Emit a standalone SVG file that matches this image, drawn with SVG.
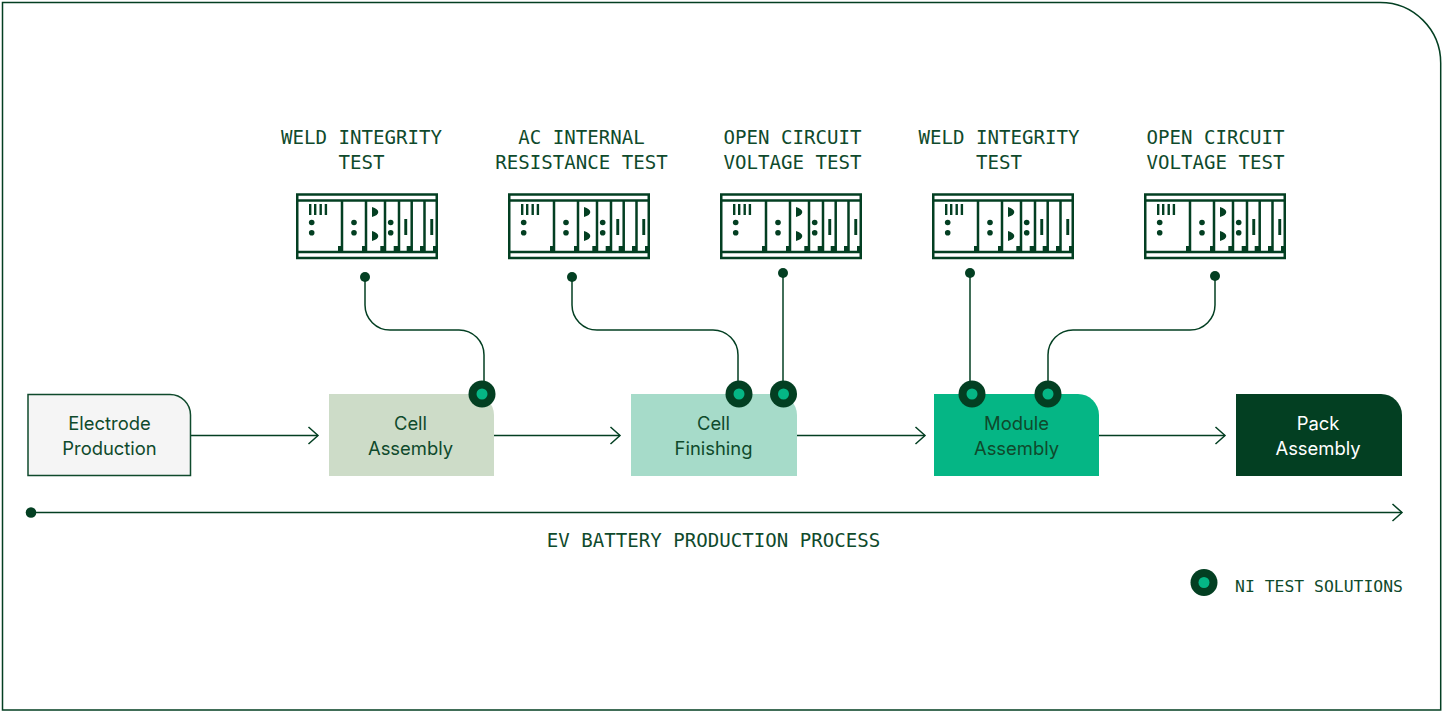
<svg xmlns="http://www.w3.org/2000/svg" width="1442" height="711" viewBox="0 0 1442 711">
<style>
.line{fill:none;stroke:#033f22;stroke-width:1.5}
.mono{font-family:"DejaVu Sans Mono",monospace;font-size:19.100px;fill:#0f4a2c;text-anchor:middle}
.sans{font-family:Inter,"Liberation Sans",sans-serif;font-size:18.400px;fill:#0f4a2c;text-anchor:middle}
.rk{fill:none;stroke:#033f22;stroke-width:2.500}
.d{fill:#033f22}
</style>
<defs>
<marker id="arr" markerUnits="userSpaceOnUse" markerWidth="14" markerHeight="20" refX="11" refY="10" orient="auto"><path d="M1.500 1.500L11 10L1.500 18.500" fill="none" stroke="#033f22" stroke-width="1.500"/></marker>
<g id="rack">
<rect class="rk" x="297.250" y="194.500" width="139.500" height="63.500"/>
<path class="rk" d="M297 200.500H437M297 252H437M342 200V252M366 200V252M385 200V252M399 200V252M411.700 200V252M424.500 200V252"/>
<path class="d" d="M338 246h5v6h-5zM362 246h5v6h-5zM380.300 246h5v6h-5zM393.700 246h5v6h-5zM406.700 246h5v6h-5zM420 246h5v6h-5zM433 246h5v6h-5z"/>
<path class="d" d="M309 204h2.400v11h-2.400zM314 204h2.400v11h-2.400zM319.500 204h2.400v11h-2.400zM324.700 204h2.400v11h-2.400z"/>
<circle class="d" cx="311.700" cy="222.500" r="2.800"/><circle class="d" cx="311.700" cy="232.700" r="2.800"/>
<circle class="d" cx="354" cy="222.500" r="2.800"/><circle class="d" cx="354" cy="232.700" r="2.800"/>
<circle class="d" cx="390.700" cy="222.500" r="2.800"/><circle class="d" cx="390.700" cy="232.700" r="2.800"/>
<path class="d" d="M372 207c4 1 6.300 3 6.300 5s-2.300 4-6.300 5zM372 231c4 1 6.300 3 6.300 5s-2.300 4-6.300 5z"/>
<path class="d" d="M404.300 219h2.900v16h-2.900zM430.300 219h2.900v16h-2.900z"/>
</g>
<g id="pin"><circle r="13.500" class="d"/><circle r="5.500" fill="#05b685"/></g>
</defs>
<path id="frame" d="M2.500 2.500H1380A60.500 60.500 0 0 1 1440.700 63V710H2.500Z" fill="#fff" stroke="#033f22" stroke-width="1.500"/>
<g id="connectors">
<path class="line" marker-end="url(#arr)" d="M191 435.500H318"/>
<path class="line" marker-end="url(#arr)" d="M494 435.500H620"/>
<path class="line" marker-end="url(#arr)" d="M797 435.500H925"/>
<path class="line" marker-end="url(#arr)" d="M1099 435.500H1225"/>
<path class="line" marker-end="url(#arr)" d="M31 512.500H1402"/>
<path class="line" d="M365 277V305A25 25 0 0 0 390 330H459A25 25 0 0 1 484 355V394"/>
<path class="line" d="M572 277V305A25 25 0 0 0 597 330H713A25 25 0 0 1 738 355V394"/>
<path class="line" d="M783 273V394"/>
<path class="line" d="M970 273V394"/>
<path class="line" d="M1215 276V305A25 25 0 0 1 1190 330H1073A25 25 0 0 0 1048 355V394"/>
<circle class="d" cx="31" cy="512.500" r="5.300"/>
<circle class="d" cx="365" cy="277" r="5"/>
<circle class="d" cx="572" cy="277" r="5"/>
<circle class="d" cx="783" cy="273" r="5"/>
<circle class="d" cx="970" cy="273" r="5"/>
<circle class="d" cx="1215" cy="276" r="5"/>
</g>
<g id="electrode"><path d="M28 394.500H170A20.500 20.500 0 0 1 190.500 415V475.500H28Z" fill="#f5f5f5" stroke="#0f4a2c" stroke-width="1.500"/><text class="sans" x="109.500" y="430">Electrode</text><text class="sans" x="109.500" y="455">Production</text></g>
<g id="cell-assembly"><path d="M329 394H473A21 21 0 0 1 494 415V476H329Z" fill="#cddcc8"/><text class="sans" x="410.500" y="430">Cell</text><text class="sans" x="410.500" y="455">Assembly</text></g>
<g id="cell-finishing"><path d="M631 394H776A21 21 0 0 1 797 415V476H631Z" fill="#a6dbc9"/><text class="sans" x="713.500" y="430">Cell</text><text class="sans" x="713.500" y="455">Finishing</text></g>
<g id="module-assembly"><path d="M934 394H1078A21 21 0 0 1 1099 415V476H934Z" fill="#05b685"/><text class="sans" x="1016.500" y="430">Module</text><text class="sans" x="1016.500" y="455">Assembly</text></g>
<g id="pack-assembly"><path d="M1236 394H1381A21 21 0 0 1 1402 415V476H1236Z" fill="#033f22"/><text class="sans" x="1318" y="430" style="fill:#fff">Pack</text><text class="sans" x="1318" y="455" style="fill:#fff">Assembly</text></g>
<g id="pins">
<use href="#pin" x="482" y="394"/><use href="#pin" x="739" y="394"/><use href="#pin" x="783.500" y="394"/><use href="#pin" x="972" y="394"/><use href="#pin" x="1048" y="394"/>
</g>
<g id="test-1"><text class="mono" x="361.500" y="143.500">WELD INTEGRITY</text><text class="mono" x="361.500" y="168.500">TEST</text><use href="#rack"/></g>
<g id="test-2"><text class="mono" x="581.500" y="143.500">AC INTERNAL</text><text class="mono" x="581.500" y="168.500">RESISTANCE TEST</text><use href="#rack" x="212"/></g>
<g id="test-3"><text class="mono" x="792.500" y="143.500">OPEN CIRCUIT</text><text class="mono" x="792.500" y="168.500">VOLTAGE TEST</text><use href="#rack" x="424"/></g>
<g id="test-4"><text class="mono" x="999" y="143.500">WELD INTEGRITY</text><text class="mono" x="999" y="168.500">TEST</text><use href="#rack" x="636"/></g>
<g id="test-5"><text class="mono" x="1215.500" y="143.500">OPEN CIRCUIT</text><text class="mono" x="1215.500" y="168.500">VOLTAGE TEST</text><use href="#rack" x="848"/></g>
<text class="mono" x="713.500" y="547">EV BATTERY PRODUCTION PROCESS</text>
<g id="legend"><use href="#pin" x="1204" y="582.500"/><text class="mono" x="1319" y="591.500" style="font-size:16.400px">NI TEST SOLUTIONS</text></g>
</svg>
